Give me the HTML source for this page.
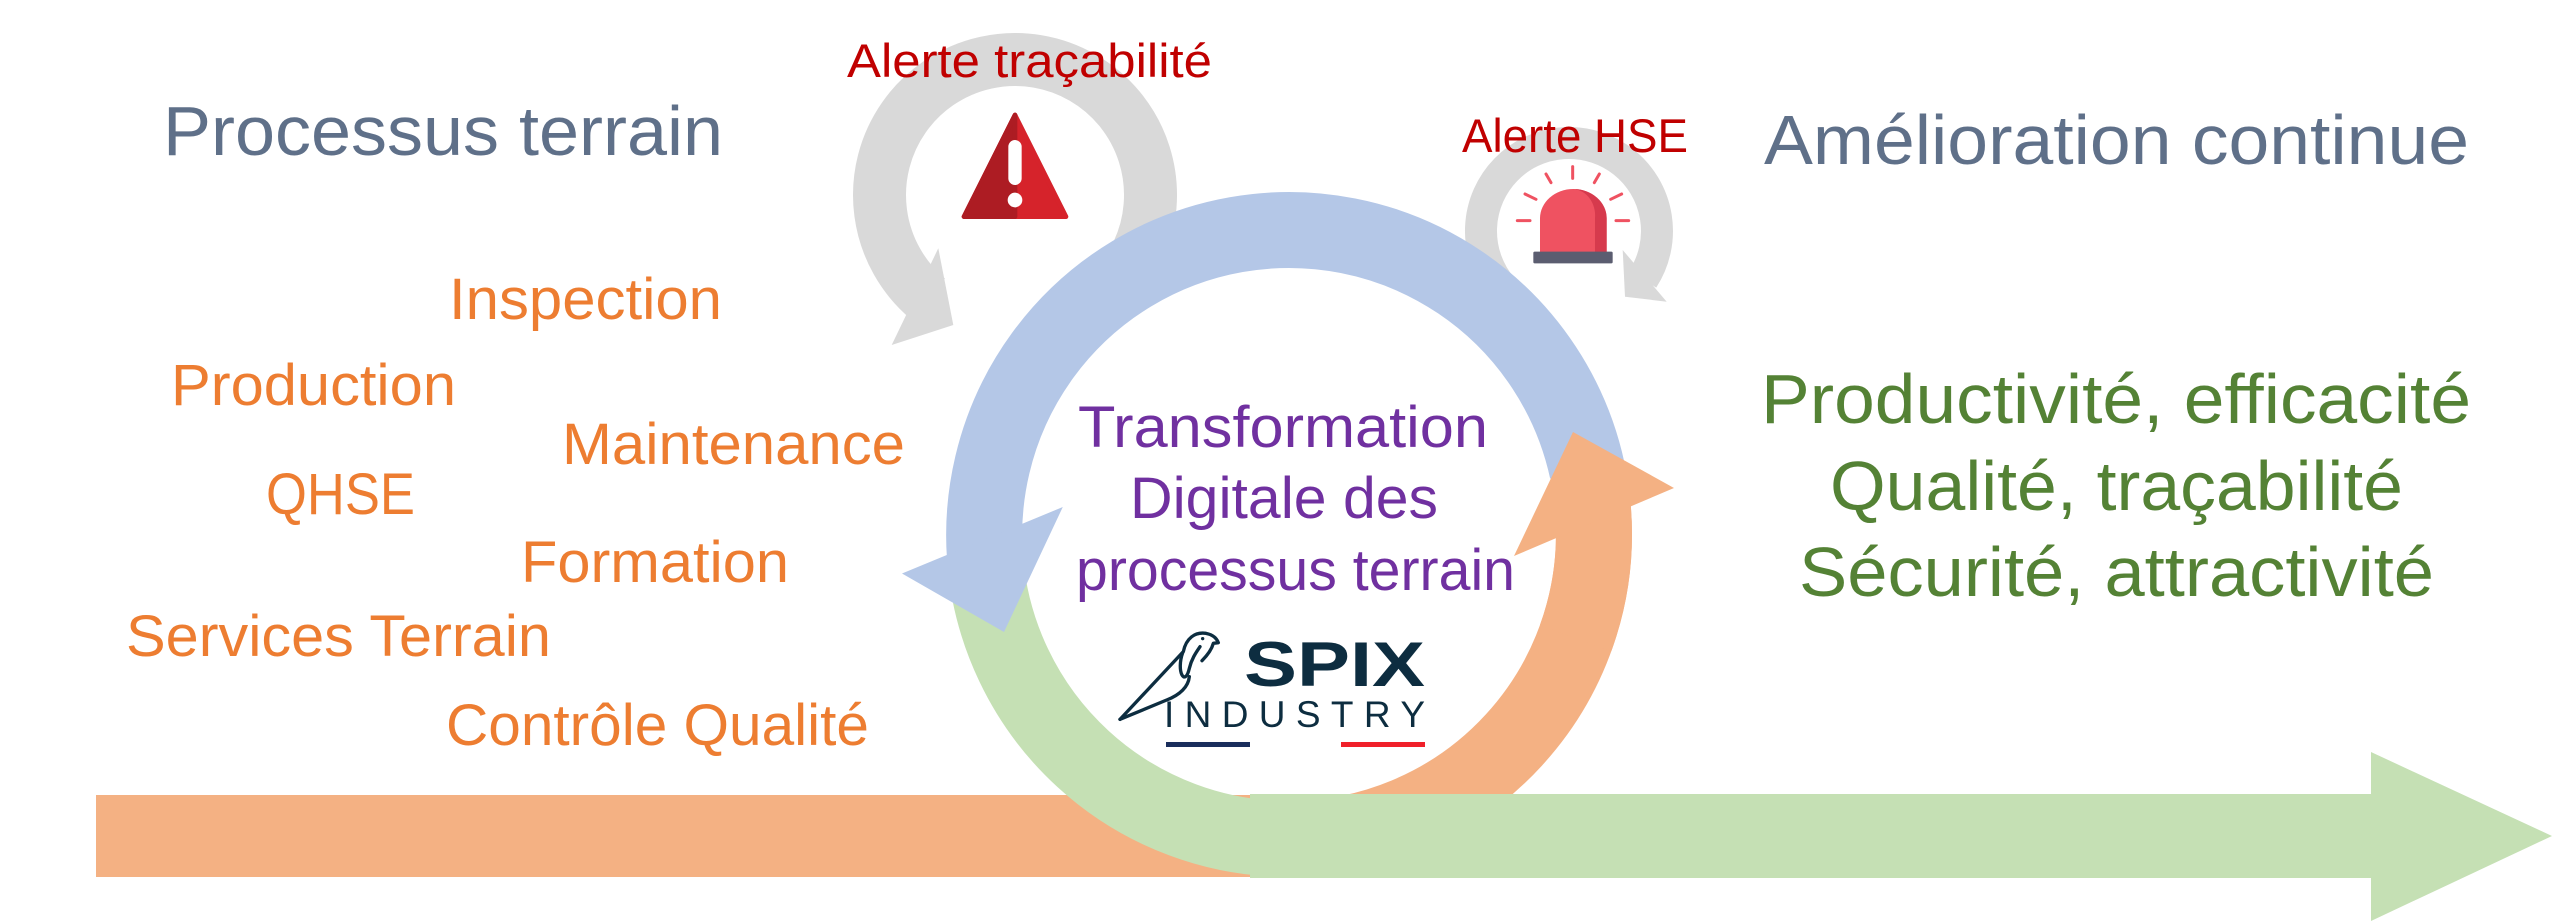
<!DOCTYPE html>
<html><head><meta charset="utf-8"><style>
html,body{margin:0;padding:0;background:#fff;}
svg{display:block;}
text{font-family:"Liberation Sans",sans-serif;}
</style></head><body>
<svg width="2560" height="921" viewBox="0 0 2560 921" xmlns="http://www.w3.org/2000/svg">
<rect width="2560" height="921" fill="#fff"/>

<!-- gray loops -->
<path d="M1137.8,252.3 A135.5,135.5 0 1 0 927.9,298.8" fill="none" stroke="#d9d9d9" stroke-width="53"/>
<polygon points="938.3,248.3 953.3,325 891.7,345" fill="#d9d9d9"/>
<path d="M1501.6,287.6 A88,88 0 1 1 1642.8,278.9" fill="none" stroke="#d9d9d9" stroke-width="32"/>
<polygon points="1622.7,250 1625,296.7 1666.7,301.7" fill="#d9d9d9"/>

<!-- orange bar + arc -->
<rect x="96" y="795" width="1161" height="82" fill="#f4b183"/>
<path d="M1289,839 A305,305 0 0 0 1592.8,507.4" fill="none" stroke="#f4b183" stroke-width="76"/>

<!-- green arc + arrow -->
<path d="M985.2,560.6 A305,305 0 0 0 1289,839" fill="none" stroke="#c5e0b4" stroke-width="76"/>
<rect x="1250" y="794" width="1125" height="84" fill="#c5e0b4"/>
<polygon points="2371,752 2552,836 2371,921" fill="#c5e0b4"/>

<!-- blue arc -->
<path d="M1587.3,470.6 A305,305 0 0 0 987,576.4" fill="none" stroke="#b4c7e7" stroke-width="76"/>
<polygon points="902,573.5 1062.8,507 1004,632" fill="#b4c7e7"/>

<!-- orange top part over blue -->
<path d="M1575.6,638.3 A305,305 0 0 0 1592.8,507.4" fill="none" stroke="#f4b183" stroke-width="76"/>
<polygon points="1573,432 1674,488 1514,556" fill="#f4b183"/>

<!-- warning icon -->
<g transform="translate(840,20) scale(0.33333)">
<polygon points="525,285 372,590 678,590" fill="#d6232b" stroke="#d6232b" stroke-width="14" stroke-linejoin="round"/>
<polygon points="525,285 372,590 525,590" fill="#ad1c23" stroke="#ad1c23" stroke-width="14" stroke-linejoin="round"/>
<rect x="505" y="360" width="40" height="135" rx="20" fill="#fff"/>
<circle cx="525" cy="540" r="22" fill="#fff"/>
</g>

<!-- siren icon -->
<g transform="translate(1440,100) scale(0.33333)">
<g stroke="#ef5261" stroke-width="9" stroke-linecap="round">
<line x1="398" y1="200" x2="398" y2="235"/>
<line x1="318" y1="222" x2="333" y2="248"/>
<line x1="478" y1="222" x2="463" y2="248"/>
<line x1="255" y1="282" x2="288" y2="298"/>
<line x1="545" y1="282" x2="512" y2="298"/>
<line x1="232" y1="362" x2="270" y2="362"/>
<line x1="528" y1="362" x2="566" y2="362"/>
</g>
<path d="M300,458 L300,355 A100,88 0 0 1 500,355 L500,458 Z" fill="#ef5261"/>
<path d="M400,267 A100,88 0 0 1 500,355 L500,458 L465,458 L465,355 A70,80 0 0 0 400,267 Z" fill="#d63a4d"/>
<rect x="280" y="455" width="238" height="35" rx="4" fill="#5b5d70"/>
</g>

<!-- texts -->
<text x="163" y="155" font-size="70" fill="#5f7089" textLength="560" lengthAdjust="spacingAndGlyphs">Processus terrain</text>
<text x="1764" y="164" font-size="70" fill="#5f7089" textLength="705" lengthAdjust="spacingAndGlyphs">Amélioration continue</text>

<text x="847" y="77" font-size="47" fill="#c00000" textLength="365" lengthAdjust="spacingAndGlyphs">Alerte traçabilité</text>
<text x="1462" y="152" font-size="47" fill="#c00000" textLength="226" lengthAdjust="spacingAndGlyphs">Alerte HSE</text>

<g font-size="58" fill="#ed7d31">
<text x="449" y="319" textLength="273" lengthAdjust="spacingAndGlyphs">Inspection</text>
<text x="171" y="405" textLength="285" lengthAdjust="spacingAndGlyphs">Production</text>
<text x="562" y="464" textLength="343" lengthAdjust="spacingAndGlyphs">Maintenance</text>
<text x="266" y="514" textLength="149" lengthAdjust="spacingAndGlyphs">QHSE</text>
<text x="521" y="582" textLength="268" lengthAdjust="spacingAndGlyphs">Formation</text>
<text x="126" y="656" textLength="425" lengthAdjust="spacingAndGlyphs">Services Terrain</text>
<text x="446" y="745" textLength="423" lengthAdjust="spacingAndGlyphs">Contrôle Qualité</text>
</g>

<g font-size="70" fill="#548235">
<text x="1761" y="423" textLength="710" lengthAdjust="spacingAndGlyphs">Productivité, efficacité</text>
<text x="1830" y="510" textLength="573" lengthAdjust="spacingAndGlyphs">Qualité, traçabilité</text>
<text x="1799" y="596" textLength="635" lengthAdjust="spacingAndGlyphs">Sécurité, attractivité</text>
</g>

<g font-size="58" fill="#7030a0">
<text x="1078" y="447" textLength="410" lengthAdjust="spacingAndGlyphs">Transformation</text>
<text x="1130" y="518" textLength="308" lengthAdjust="spacingAndGlyphs">Digitale des</text>
<text x="1076" y="590" textLength="439" lengthAdjust="spacingAndGlyphs">processus terrain</text>
</g>

<!-- logo -->
<text x="1244" y="686" font-size="63" font-weight="bold" fill="#0d2d40" textLength="181" lengthAdjust="spacingAndGlyphs">SPIX</text>
<text x="1164" y="727" font-size="37" fill="#0d2d40" textLength="261" lengthAdjust="spacing">INDUSTRY</text>
<rect x="1166" y="742" width="84" height="5" fill="#1a2e5c"/>
<rect x="1341" y="742" width="84" height="5" fill="#f0202a"/>
<g transform="translate(1100,600) scale(0.33333)" fill="none" stroke="#0d2d40" stroke-width="10" stroke-linecap="round" stroke-linejoin="round">
<path d="M60,358 L250,155 C258,115 285,95 318,100 C338,104 350,115 355,128 L340,130 C336,145 328,160 306,182"/>
<path d="M248,158 C228,215 255,262 268,205 C275,175 290,155 300,140"/>
<path d="M60,358 L200,300 C240,285 265,260 268,230"/>
<circle cx="308" cy="116" r="5" fill="#0d2d40" stroke="none"/>
</g>
</svg>
</body></html>
